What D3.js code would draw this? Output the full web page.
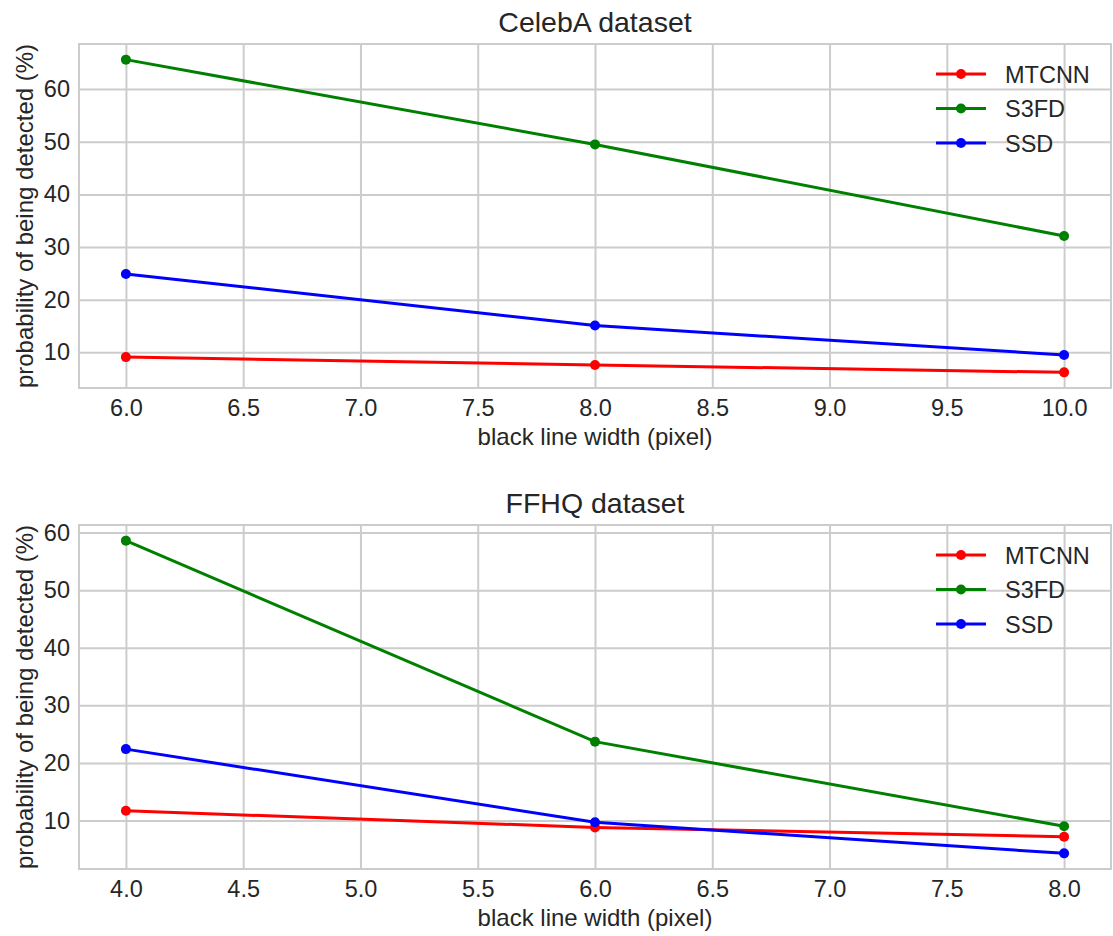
<!DOCTYPE html>
<html>
<head>
<meta charset="utf-8">
<script src="https://cdn.jsdelivr.net/npm/d3@7"></script>
<style>
  body { margin: 0; background: #fff; }
  text { font-family: "Liberation Sans", Arial, sans-serif; fill: #262626; }
</style>
</head>
<body>
<div id="chart"></div>
<script>
// detection probability per black line width
const seriesNames = ["MTCNN", "S3FD", "SSD"];
const seriesColors = ["#ff0000", "#008000", "#0000ff"];

const celebaWidths = [6, 8, 10];
const celebaMtcnn = [9.1, 7.6, 6.2];
const celebaS3fd = [65.6, 49.5, 32.1];
const celebaSsd = [24.9, 15.1, 9.5];

const ffhqWidths = [4, 6, 8];
const ffhqMtcnn = [11.7, 8.8, 7.2];
const ffhqS3fd = [58.6, 23.7, 9.0];
const ffhqSsd = [22.4, 9.7, 4.3];

const celebaXTicks = [6.0, 6.5, 7.0, 7.5, 8.0, 8.5, 9.0, 9.5, 10.0];
const ffhqXTicks = [4.0, 4.5, 5.0, 5.5, 6.0, 6.5, 7.0, 7.5, 8.0];
const yTicks = [10, 20, 30, 40, 50, 60];

const width = 1113, height = 936;

const svg = d3.select("#chart").append("svg")
    .attr("width", width)
    .attr("height", height);

function pad(ext) {
  // matplotlib style 5% margins
  const m = (ext[1] - ext[0]) * 0.05;
  return [ext[0] - m, ext[1] + m];
}

function panel(top, title, xs, values, xTicks) {
  const left = 79, right = 1111, bottom = top + 344;

  const x = d3.scaleLinear().domain(pad(d3.extent(xs))).range([left, right]);
  const allY = values.flat();
  const y = d3.scaleLinear().domain(pad(d3.extent(allY))).range([bottom, top]);

  const g = svg.append("g");

  // grid
  g.append("g")
    .attr("transform", `translate(0,${bottom})`)
    .call(d3.axisBottom(x).tickValues(xTicks).tickSize(-(bottom - top)).tickFormat(d3.format(".1f")).tickPadding(11))
    .call(a => a.select(".domain").remove())
    .call(a => a.selectAll("line").attr("stroke", "#cccccc").attr("stroke-width", 2))
    .call(a => a.selectAll("text").attr("font-size", 23.5).attr("fill", "#262626"));

  g.append("g")
    .attr("transform", `translate(${left},0)`)
    .call(d3.axisLeft(y).tickValues(yTicks).tickSize(-(right - left)).tickFormat(d3.format("d")).tickPadding(9))
    .call(a => a.select(".domain").remove())
    .call(a => a.selectAll("line").attr("stroke", "#cccccc").attr("stroke-width", 2))
    .call(a => a.selectAll("text").attr("font-size", 23.5).attr("fill", "#262626"));

  // frame
  g.append("rect")
    .attr("x", left).attr("y", top)
    .attr("width", right - left).attr("height", bottom - top)
    .attr("fill", "none")
    .attr("stroke", "#cccccc")
    .attr("stroke-width", 2);

  const line = d3.line().x(d => x(d[0])).y(d => y(d[1]));

  values.forEach((vals, i) => {
    const pts = xs.map((v, j) => [v, vals[j]]);
    g.append("path")
      .datum(pts)
      .attr("d", line)
      .attr("fill", "none")
      .attr("stroke", seriesColors[i])
      .attr("stroke-width", 3);
    g.selectAll(null)
      .data(pts)
      .join("circle")
      .attr("cx", d => x(d[0]))
      .attr("cy", d => y(d[1]))
      .attr("r", 5)
      .attr("fill", seriesColors[i]);
  });

  // legend (no frame)
  const leg = g.append("g");
  seriesNames.forEach((name, i) => {
    const ly = top + 30 + i * 34.5;
    leg.append("line")
      .attr("x1", 936).attr("x2", 986)
      .attr("y1", ly).attr("y2", ly)
      .attr("stroke", seriesColors[i]).attr("stroke-width", 3);
    leg.append("circle")
      .attr("cx", 961).attr("cy", ly).attr("r", 5)
      .attr("fill", seriesColors[i]);
    leg.append("text")
      .attr("x", 1005).attr("y", ly + 8.5)
      .attr("font-size", 23.5)
      .text(name);
  });

  // titles
  g.append("text")
    .attr("x", (left + right) / 2).attr("y", top - 12)
    .attr("text-anchor", "middle")
    .attr("font-size", 28.5)
    .text(title);

  g.append("text")
    .attr("x", (left + right) / 2).attr("y", bottom + 57)
    .attr("text-anchor", "middle")
    .attr("font-size", 24)
    .text("black line width (pixel)");

  g.append("text")
    .attr("transform", `translate(33,${(top + bottom) / 2}) rotate(-90)`)
    .attr("text-anchor", "middle")
    .attr("font-size", 24)
    .text("probability of being detected (%)");
}

panel(44, "CelebA dataset", celebaWidths, [celebaMtcnn, celebaS3fd, celebaSsd], celebaXTicks);
panel(525, "FFHQ dataset", ffhqWidths, [ffhqMtcnn, ffhqS3fd, ffhqSsd], ffhqXTicks);
</script>
</body>
</html>
